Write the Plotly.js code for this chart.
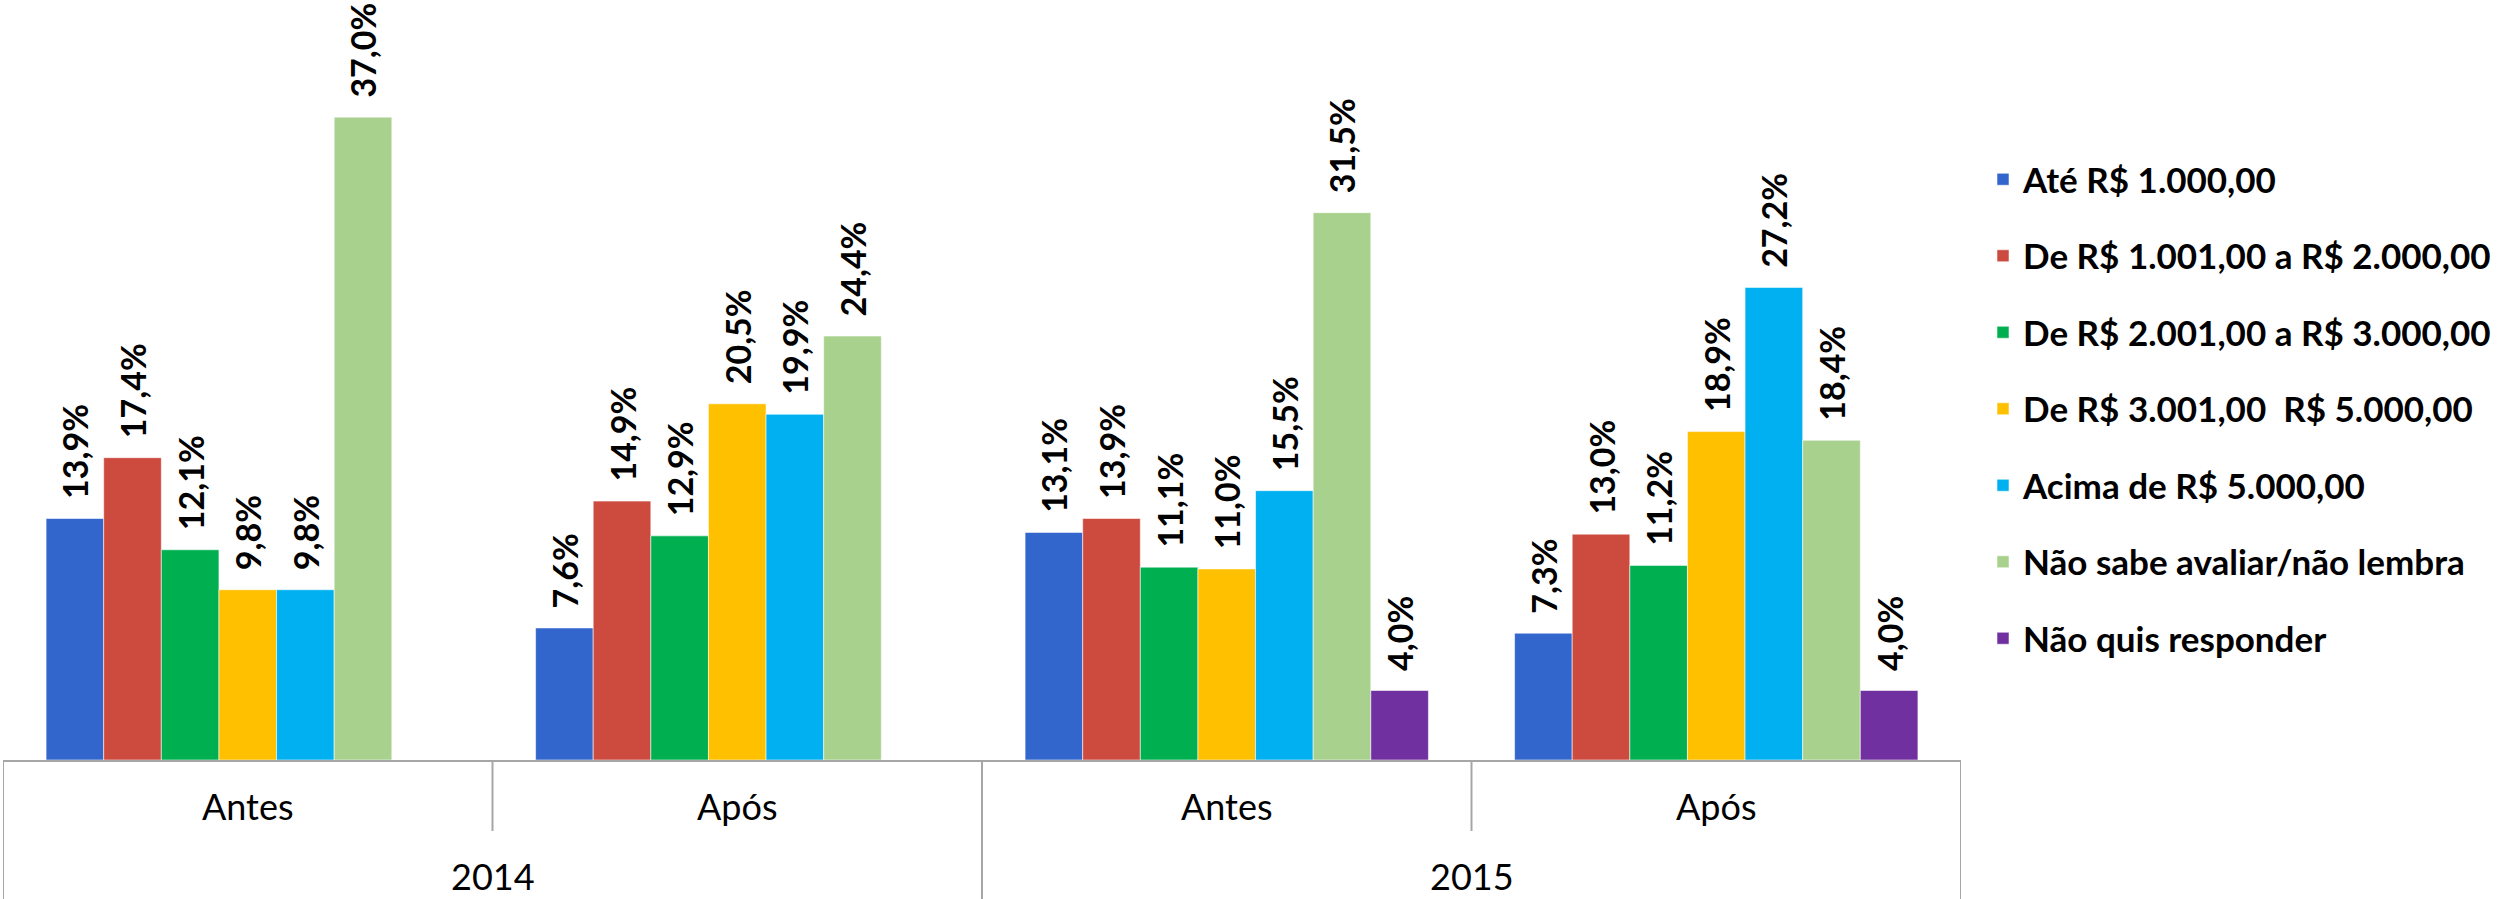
<!DOCTYPE html>
<html>
<head>
<meta charset="utf-8">
<script src="https://cdn.plot.ly/plotly-3.0.1.min.js"></script>
<style>
  html, body { margin: 0; padding: 0; background: #fff; }
  #chart { width: 2499px; height: 899px; }
</style>
</head>
<body>
<div id="chart"></div>
<script>
// anos e momentos (eixo de duas linhas)
const anos = ["2014", "2014", "2015", "2015"];
const momentos = ["Antes", "Após", "Antes", "Após"];

// faixas de renda
const faixas = [
  "Até R$ 1.000,00",
  "De R$ 1.001,00 a R$ 2.000,00",
  "De R$ 2.001,00 a R$ 3.000,00",
  "De R$ 3.001,00  R$ 5.000,00",
  "Acima de R$ 5.000,00",
  "Não sabe avaliar/não lembra",
  "Não quis responder",
];
const cores = ["#3366CC", "#CD4A3F", "#00B050", "#FFC000", "#00B0F0", "#A9D18E", "#7030A0"];

// valores em % (2014 Antes, 2014 Após, 2015 Antes, 2015 Após)
const ate1000 = [13.9, 7.6, 13.1, 7.3];
const de1001a2000 = [17.4, 14.9, 13.9, 13.0];
const de2001a3000 = [12.1, 12.9, 11.1, 11.2];
const de3001a5000 = [9.8, 20.5, 11.0, 18.9];
const acima5000 = [9.8, 19.9, 15.5, 27.2];
const naoSabe = [37.0, 24.4, 31.5, 18.4];
const naoQuis = [null, null, 4.0, 4.0];

const series = [ate1000, de1001a2000, de2001a3000, de3001a5000, acima5000, naoSabe, naoQuis];

const fonte = "Lato, 'Open Sans', sans-serif";
const cinza = "#A6A6A6";

// uma chave por coluna, rotulada só com o momento
const chaves = anos.map((a, i) => a + " " + momentos[i]);

const traces = series.map((vals, i) => ({
  type: "bar",
  name: faixas[i],
  x: chaves,
  y: vals,
  legendgroup: "g" + i,
  marker: { color: cores[i], line: { width: 1, color: "rgba(255,255,255,0.55)" } },
  texttemplate: "\u00a0\u00a0%{y:.1f}%",
  textposition: "outside",
  textangle: -90,
  constraintext: "none",
  cliponaxis: false,
  outsidetextfont: { family: fonte, size: 34, color: "#000", weight: "bold" },
  hoverinfo: "skip",
}));

const mT = 65, mB = 139;
const plotH = 899 - mT - mB;

// anos: rótulo centrado sob as suas colunas
const anosUnicos = [...new Set(anos)];
const annotations = anosUnicos.map((ano) => {
  const idx = anos.map((a, i) => (a === ano ? i : -1)).filter((i) => i >= 0);
  const meio = (idx[0] + idx[idx.length - 1]) / 2;
  return {
    text: ano,
    xref: "x",
    yref: "paper",
    x: meio,
    y: -116 / plotH,
    xanchor: "center",
    yanchor: "middle",
    showarrow: false,
    font: { family: fonte, size: 36, color: "#000" },
  };
});

// divisórias do eixo: curtas entre momentos, longas entre anos e nas pontas
const shapes = [];
for (let i = 0; i <= anos.length; i++) {
  const longa = i === 0 || i === anos.length || anos[i] !== anos[i - 1];
  shapes.push({
    type: "line",
    xref: "x",
    yref: "paper",
    x0: i - 0.5,
    x1: i - 0.5,
    y0: 0,
    y1: longa ? -mB / plotH : -71 / plotH,
    line: { color: cinza, width: 2 },
  });
}

const layout = {
  width: 2499,
  height: 899,
  margin: { l: 3, r: 538, t: mT, b: mB },
  paper_bgcolor: "#fff",
  plot_bgcolor: "#fff",
  separators: ",.",
  barmode: "group",
  bargap: 0.176,
  bargroupgap: 0,
  font: { family: fonte, size: 34, color: "#000" },
  xaxis: {
    type: "category",
    tickvals: chaves,
    ticktext: momentos,
    showline: true,
    linecolor: cinza,
    linewidth: 2,
    ticks: "",
    ticklabelstandoff: 15,
    tickfont: { family: fonte, size: 36, color: "#000" },
    showgrid: false,
    zeroline: false,
    range: [-0.5, anos.length - 0.5],
  },
  yaxis: {
    range: [0, 40],
    visible: false,
    showgrid: false,
    zeroline: false,
  },
  showlegend: true,
  legend: {
    xref: "container",
    yref: "container",
    x: 1983 / 2499,
    y: 1 - 150 / 899,
    xanchor: "left",
    yanchor: "top",
    maxheight: 1,
    tracegroupgap: 28,
    traceorder: "grouped",
    font: { family: fonte, size: 35, color: "#000", weight: "bold" },
    bgcolor: "rgba(0,0,0,0)",
  },
  annotations: annotations,
  shapes: shapes,
};

Plotly.newPlot("chart", traces, layout, { displayModeBar: false, staticPlot: true });
</script>
</body>
</html>
